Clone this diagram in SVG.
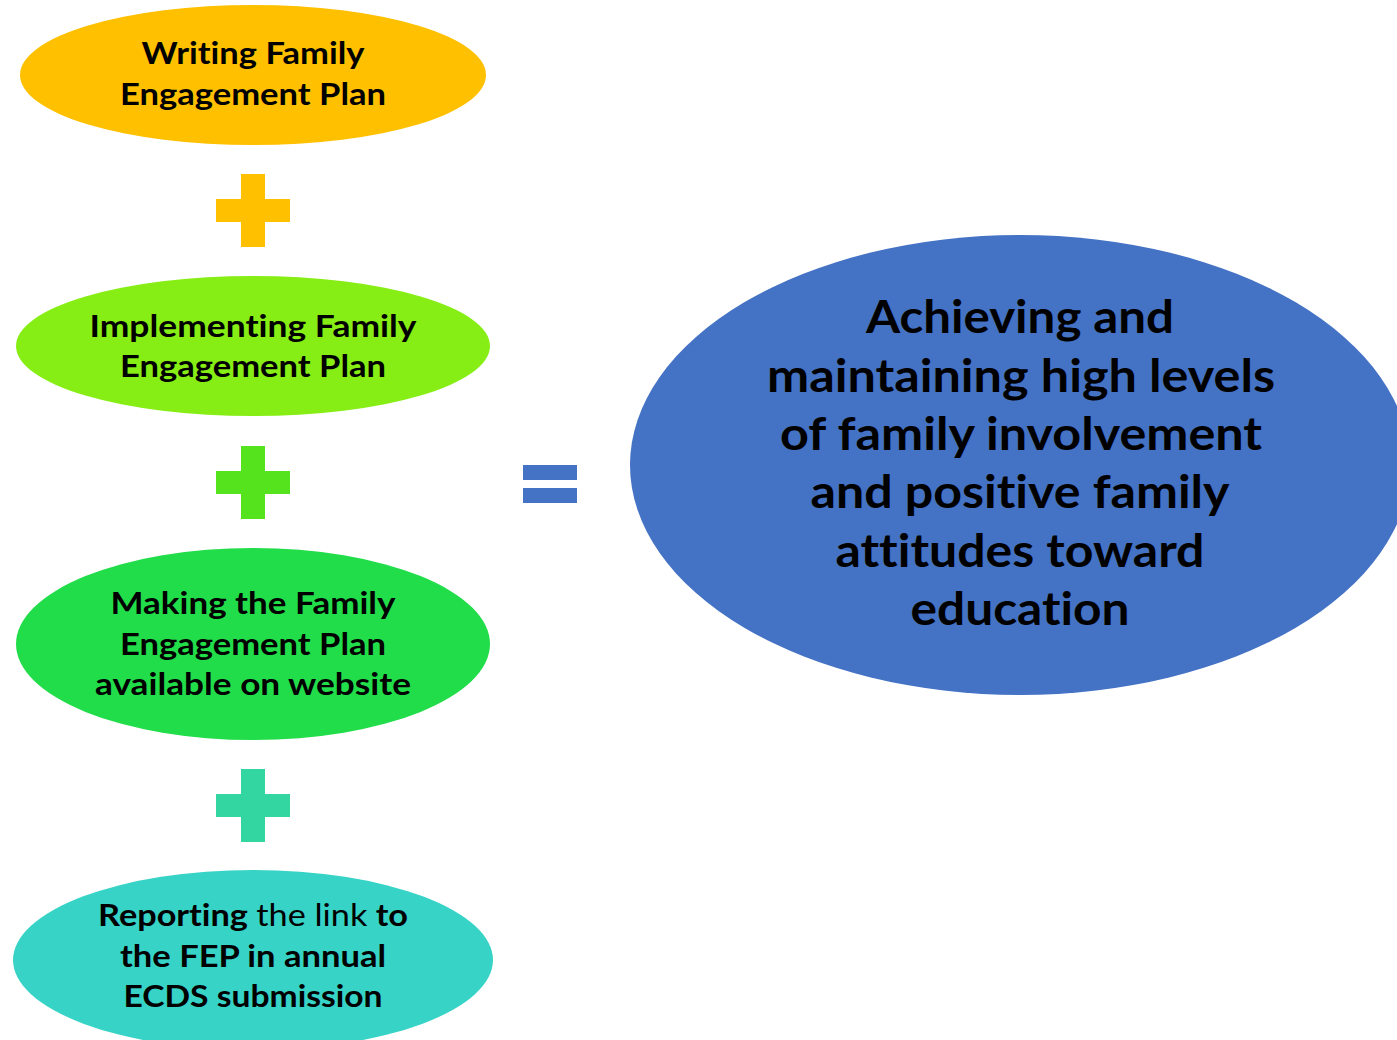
<svg xmlns="http://www.w3.org/2000/svg" width="1397" height="1040" viewBox="0 0 1397 1040">
<style>
text{font-family:Lato,"Open Sans","Liberation Sans",sans-serif;font-weight:bold;fill:#000;text-anchor:middle;font-variant-ligatures:none;font-feature-settings:"liga" 0}
.s{font-size:31px}
.b{font-size:45px}
.n{font-weight:normal}
</style>
<rect width="1397" height="1040" fill="#fff"/>
<g id="node-writing">
<ellipse cx="253" cy="75" rx="233" ry="70" fill="#FFC000"/>
<text class="s" x="253" y="64" textLength="223" lengthAdjust="spacingAndGlyphs">Writing Family</text>
<text class="s" x="253" y="105" textLength="266" lengthAdjust="spacingAndGlyphs">Engagement Plan</text>
</g>
<g id="node-implementing">
<ellipse cx="253" cy="346" rx="237" ry="70" fill="#86EE14"/>
<text class="s" x="253" y="337" textLength="327" lengthAdjust="spacingAndGlyphs">Implementing Family</text>
<text class="s" x="253" y="377" textLength="266" lengthAdjust="spacingAndGlyphs">Engagement Plan</text>
</g>
<g id="node-making">
<ellipse cx="253" cy="644" rx="237" ry="96" fill="#22DD4A"/>
<text class="s" x="253" y="614" textLength="285" lengthAdjust="spacingAndGlyphs">Making the Family</text>
<text class="s" x="253" y="655" textLength="266" lengthAdjust="spacingAndGlyphs">Engagement Plan</text>
<text class="s" x="253" y="695" textLength="316" lengthAdjust="spacingAndGlyphs">available on website</text>
</g>
<g id="node-reporting">
<ellipse cx="253" cy="960" rx="240" ry="90" fill="#36D3C6"/>
<text class="s" x="253" y="926" textLength="310" lengthAdjust="spacingAndGlyphs">Reporting <tspan class="n">the link</tspan> to</text>
<text class="s" x="253" y="967" textLength="266" lengthAdjust="spacingAndGlyphs">the FEP in annual</text>
<text class="s" x="253" y="1007" textLength="259" lengthAdjust="spacingAndGlyphs">ECDS submission</text>
</g>
<g id="node-outcome">
<ellipse cx="1020" cy="465" rx="390" ry="230" fill="#4472C4"/>
<text class="b" x="1020" y="333" textLength="308" lengthAdjust="spacingAndGlyphs">Achieving and</text>
<text class="b" x="1021" y="392" textLength="508" lengthAdjust="spacingAndGlyphs">maintaining high levels</text>
<text class="b" x="1021" y="450" textLength="482" lengthAdjust="spacingAndGlyphs">of family involvement</text>
<text class="b" x="1020" y="508" textLength="419" lengthAdjust="spacingAndGlyphs">and positive family</text>
<text class="b" x="1020" y="567" textLength="369" lengthAdjust="spacingAndGlyphs">attitudes toward</text>
<text class="b" x="1020" y="625" textLength="219" lengthAdjust="spacingAndGlyphs">education</text>
</g>
<g id="connectors">
<path d="M241 174h24v25h25v23h-25v25h-24v-25h-25v-23h25z" fill="#FFC000"/>
<path d="M241 446h24v25h25v23h-25v25h-24v-25h-25v-23h25z" fill="#55E31E"/>
<path d="M241 769h24v25h25v23h-25v25h-24v-25h-25v-23h25z" fill="#33D6A0"/>
<rect x="523" y="465" width="54" height="15" fill="#4472C4"/>
<rect x="523" y="488" width="54" height="15" fill="#4472C4"/>
</g>
</svg>
